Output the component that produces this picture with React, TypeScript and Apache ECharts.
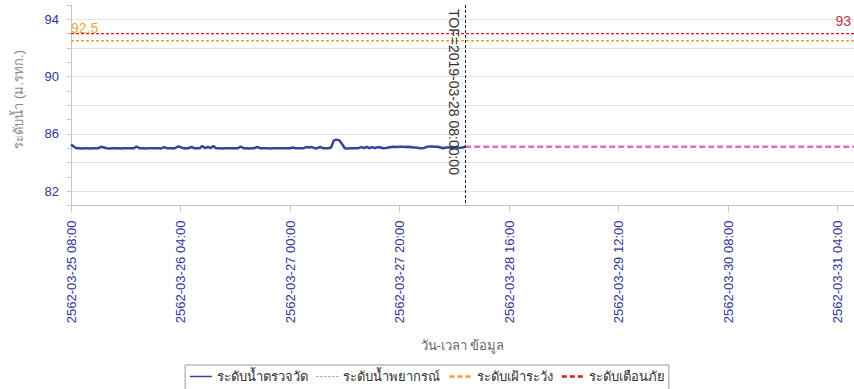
import React, { useEffect, useRef } from 'react';
import * as echarts from 'echarts';

// ---- data ----
const obsStart = '2019-03-25T08:00:00Z';
const obsStepMinutes = 30;
const observedLevels = [
  85.25, 85.12, 85.0, 85.0, 84.98, 85.0, 85.0, 84.98, 85.0, 85.0, 85.0, 85.1,
  85.05, 85.0, 84.98, 85.0, 85.0, 85.0, 84.98, 85.0, 85.0, 85.0, 85.0, 85.0,
  85.12, 85.0, 85.0, 84.98, 85.0, 85.0, 85.0, 85.0, 85.0, 84.98, 85.08, 85.0,
  85.0, 85.0, 85.0, 85.12, 85.08, 85.0, 85.0, 85.0, 85.1, 85.0, 85.0, 85.0,
  85.15, 85.0, 85.1, 85.0, 85.15, 85.0, 85.0, 84.98, 85.0, 85.0, 85.0, 85.0,
  85.0, 85.0, 85.12, 85.0, 85.0, 84.98, 85.0, 85.0, 85.1, 85.0, 85.0, 85.0,
  85.0, 84.98, 85.0, 85.0, 85.0, 85.0, 85.0, 85.0, 85.0, 85.05, 85.0, 85.0,
  85.0, 85.0, 85.08, 85.05, 85.08, 85.0, 85.0, 85.1, 85.0, 85.0, 85.0, 85.05,
  85.55, 85.6, 85.55, 85.3, 85.0, 84.98, 85.0, 85.0, 85.0, 85.0, 85.08, 85.0,
  85.1, 85.0, 85.08, 85.0, 85.08, 85.05, 85.0, 85.02, 85.05, 85.08, 85.1, 85.08,
  85.1, 85.1, 85.08, 85.1, 85.08, 85.05, 85.05, 85.02, 85.0, 85.02, 85.1, 85.12,
  85.12, 85.1, 85.1, 85.05, 85.0, 85.05, 85.05, 85.03, 85.05, 85.05, 85.03, 85.05,
  85.1,
];
const forecastTimes = [
  '2019-03-28T08:00:00Z', '2019-03-28T14:00:00Z', '2019-03-28T20:00:00Z',
  '2019-03-29T02:00:00Z', '2019-03-29T08:00:00Z', '2019-03-29T14:00:00Z',
  '2019-03-29T20:00:00Z', '2019-03-30T02:00:00Z', '2019-03-30T08:00:00Z',
  '2019-03-30T14:00:00Z', '2019-03-30T20:00:00Z', '2019-03-31T02:00:00Z',
  '2019-03-31T07:00:00Z',
];
const forecastLevels = [85.1, 85.1, 85.1, 85.1, 85.1, 85.1, 85.1, 85.1, 85.1, 85.1, 85.1, 85.1, 85.1];
const watchLevel = 92.5;
const alarmLevel = 93;
const tofTime = '2019-03-28T08:00:00Z';
const tofText = 'TOF=2019-03-28 08:00:00';
const xRange = ['2019-03-25T08:00:00Z', '2019-03-31T07:00:00Z'];
const xTickHours = 20;
const yRange = [81, 95];
const seriesNames = ['ระดับน้ำตรวจวัด', 'ระดับน้ำพยากรณ์', 'ระดับเฝ้าระวัง', 'ระดับเตือนภัย'];
const xAxisName = 'วัน-เวลา ข้อมูล';
const yAxisName = 'ระดับน้ำ (ม.รทก.)';
const buddhistOffset = 543;

// ---- helpers ----
const ms = (s: string) => Date.parse(s);
const pad = (n: number) => String(n).padStart(2, '0');
const fmtThaiTime = (v: number) => {
  const d = new Date(v);
  return `${d.getUTCFullYear() + buddhistOffset}-${pad(d.getUTCMonth() + 1)}-${pad(d.getUTCDate())} ${pad(d.getUTCHours())}:${pad(d.getUTCMinutes())}`;
};

const FONT = '"Liberation Sans", Arial, sans-serif';
const NAVY = '#333399';
const GRID_GRAY = '#e2e2e2';
const AXIS_GRAY = '#c4c4c4';

export default function App() {
  const ref = useRef<HTMLDivElement>(null);
  useEffect(() => {
    document.body.style.margin = '0';
    const chart = echarts.init(ref.current!, undefined, { renderer: 'svg' });
    const t0 = ms(obsStart);
    const xMin = ms(xRange[0]);
    const xMax = ms(xRange[1]);
    const observedData = observedLevels.map((v, i) => [t0 + i * obsStepMinutes * 60000, v]);
    const forecastData = forecastTimes.map((t, i) => [ms(t), forecastLevels[i]]);
    const tof = ms(tofTime);

    const option: any = {
      animation: false,
      textStyle: { fontFamily: FONT },
      grid: { left: 71, right: 0, top: 5, bottom: 183.5, containLabel: false },
      legend: {
        top: 365,
        left: 'center',
        itemWidth: 22,
        itemHeight: 10,
        itemGap: 8,
        borderColor: '#999',
        borderWidth: 1,
        padding: [5, 4, 8, 4],
        textStyle: { fontSize: 13, color: '#333', fontFamily: FONT },
        itemStyle: { opacity: 0 },
        data: [
          { name: seriesNames[0], lineStyle: { width: 1.5, type: 'solid' } },
          { name: seriesNames[1], lineStyle: { width: 1, type: [2, 2] } },
          { name: seriesNames[2], lineStyle: { width: 2.5, type: [5, 3] } },
          { name: seriesNames[3], lineStyle: { width: 2.5, type: [5, 3] } },
        ],
      },
      xAxis: {
        type: 'value',
        min: xMin,
        max: xMax,
        interval: xTickHours * 3600000,
        name: xAxisName,
        nameLocation: 'middle',
        nameGap: 133,
        nameTextStyle: { color: '#666', fontSize: 13, fontFamily: FONT },
        axisLine: { show: true, lineStyle: { color: AXIS_GRAY } },
        axisTick: { show: true, length: 6, lineStyle: { color: AXIS_GRAY } },
        axisLabel: {
          rotate: 90,
          color: NAVY,
          fontSize: 13,
          margin: 15,
          showMaxLabel: false,
          formatter: (v: number) => fmtThaiTime(v),
        },
        splitLine: { show: false },
      },
      yAxis: {
        type: 'value',
        min: yRange[0],
        max: yRange[1],
        interval: 1,
        name: yAxisName,
        nameLocation: 'middle',
        nameGap: 46,
        nameTextStyle: { color: '#8a8a8a', fontSize: 13, fontFamily: FONT, padding: [0, 0, 0, 12] },
        axisLine: { show: true, lineStyle: { color: AXIS_GRAY } },
        axisTick: { show: true, length: 4, lineStyle: { color: AXIS_GRAY } },
        axisLabel: {
          color: NAVY,
          fontSize: 13,
          margin: 12,
          formatter: (v: number) => ((v - 82) % 4 === 0 ? String(v) : ''),
        },
        splitLine: { show: true, lineStyle: { color: ['transparent', GRID_GRAY], width: 1 } },
      },
      series: [
        {
          name: seriesNames[2],
          type: 'line',
          data: [
            {
              value: [xMin, watchLevel],
              label: {
                show: true,
                position: 'top',
                align: 'left',
                distance: 6,
                formatter: String(watchLevel),
                color: '#eaa93a',
                fontSize: 14,
              },
            },
            [xMax, watchLevel],
          ],
          symbol: 'circle',
          symbolSize: 0.1,
          showSymbol: true,
          itemStyle: { color: '#f0a030' },
          lineStyle: { color: '#f0a030', width: 1.4, type: [3, 2] },
          z: 2,
        },
        {
          name: seriesNames[3],
          type: 'line',
          data: [
            [xMin, alarmLevel],
            {
              value: [xMax, alarmLevel],
              label: {
                show: true,
                position: 'top',
                align: 'right',
                distance: 6,
                offset: [-3, 0],
                formatter: String(alarmLevel),
                color: '#c0393b',
                fontSize: 14,
              },
            },
          ],
          symbol: 'circle',
          symbolSize: 0.1,
          showSymbol: true,
          itemStyle: { color: '#e0141e' },
          lineStyle: { color: '#e0141e', width: 1.4, type: [3, 2] },
          z: 2,
        },
        {
          name: seriesNames[1],
          type: 'line',
          data: forecastData,
          symbol: 'none',
          itemStyle: { color: '#dd72c0' },
          lineStyle: { color: '#dd72c0', width: 2.5, type: [6, 3] },
          z: 3,
        },
        {
          name: seriesNames[0],
          type: 'line',
          data: observedData,
          symbol: 'none',
          itemStyle: { color: '#34439c' },
          lineStyle: { color: '#34439c', width: 2.5 },
          z: 4,
          markLine: {
            silent: true,
            symbol: ['none', 'none'],
            lineStyle: { color: '#222', width: 1, type: [3, 2] },
            label: {
              show: true,
              position: 'insideStartBottom',
              formatter: tofText,
              color: '#333',
              fontSize: 14,
              distance: 4,
            },
            data: [[{ coord: [tof, yRange[1]] }, { coord: [tof, yRange[0]] }]],
          },
        },
      ],
    };
    chart.setOption(option);
    return () => chart.dispose();
  }, []);
  return <div ref={ref} style={{ width: 854, height: 389 }} />;
}
